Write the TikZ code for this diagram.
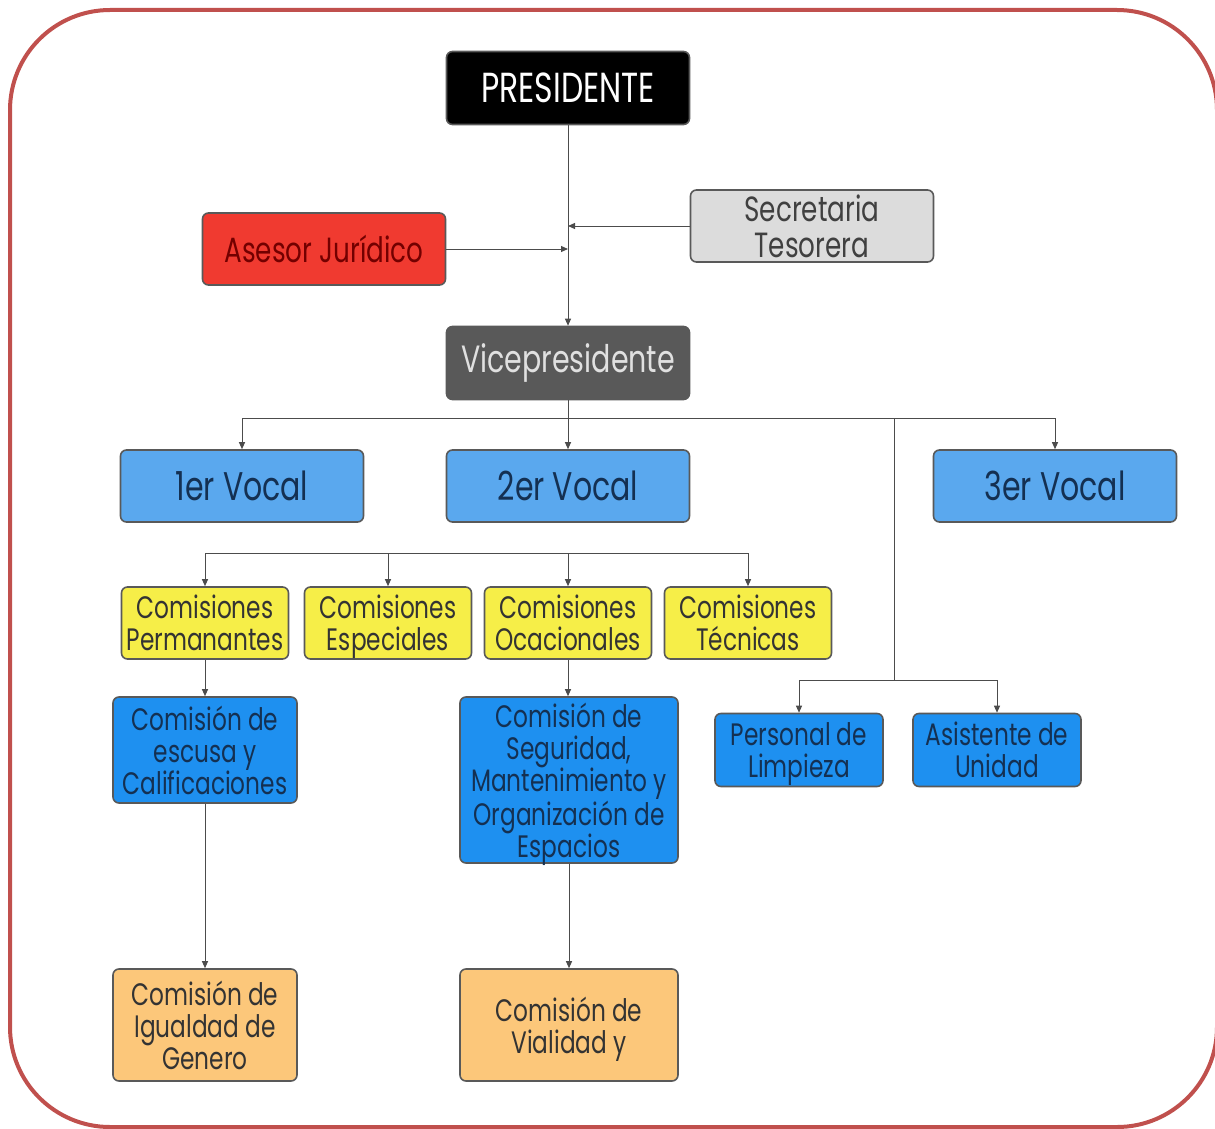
\documentclass[tikz,border=0pt]{standalone}
\usepackage{fontspec}
\setmainfont{Poppins}[FakeStretch=0.75]
\usepackage{tikz}
\usetikzlibrary{arrows.meta, positioning}

\definecolor{marcorojo}{RGB}{192,80,77}
\definecolor{grisclaro}{RGB}{220,220,220}
\definecolor{grisoscuro}{RGB}{89,89,89}
\definecolor{rojoasesor}{RGB}{240,58,48}
\definecolor{azulvocal}{RGB}{90,168,238}
\definecolor{azulcomision}{RGB}{30,144,240}
\definecolor{amarillo}{RGB}{246,238,72}
\definecolor{naranja}{RGB}{252,199,122}
\definecolor{azultexto}{RGB}{20,48,82}

\begin{document}
\begin{tikzpicture}[
  x=0.5pt, y=-0.5pt,
  caja/.style={draw=black!65, line width=0.8pt, rounded corners=3pt,
               align=center, inner sep=1pt},
  jefe/.style={caja, minimum width=121.5pt, minimum height=36.5pt,
               font=\fontsize{21}{24}\selectfont},
  lateral/.style={caja, minimum width=121.5pt, minimum height=36pt,
               font=\fontsize{17.5}{18}\selectfont},
  vocal/.style={caja, fill=azulvocal, text=azultexto, minimum width=121.5pt,
               minimum height=36pt, font=\fontsize{20}{22}\selectfont},
  grupo/.style={caja, fill=amarillo, text=black!80, minimum width=83.5pt,
               minimum height=36pt, text depth=0pt,
               font=\fontsize{15.5}{16}\selectfont},
  comision/.style={caja, fill=azulcomision, text=azultexto, text depth=0pt,
               font=\fontsize{15.5}{16}\selectfont},
  final/.style={caja, fill=naranja, text=black!80, minimum width=92pt,
               minimum height=56pt, text depth=0pt,
               font=\fontsize{15.5}{16}\selectfont},
  flecha/.style={draw=black!70, line width=0.5pt,
               -{Triangle[length=3.5pt,width=3pt]}},
  linea/.style={draw=black!70, line width=0.5pt},
  marco/.style={draw=marcorojo, line width=2pt, rounded corners=50pt}
]
\clip (0,0) rectangle (1215,1129);
\draw[marco] (10,10) rectangle (1217,1127);

% direccion
\node[jefe, fill=black, text=white] (pres) at (568,88) {PRESIDENTE};
\node[lateral, fill=grisclaro, text=black!75] (secr) at (812,226) {Secretaria\\Tesorera};
\node[lateral, fill=rojoasesor, text=red!45!black] (ases) at (324,249) {Asesor Jurídico};
\node[jefe, fill=grisoscuro, text=black!12, font=\fontsize{19}{22}\selectfont]
  (vice) at (568,363) {Vicepresidente};

% vocales
\node[vocal] (v1) at (242,486) {1er Vocal};
\node[vocal] (v2) at (568,486) {2er Vocal};
\node[vocal] (v3) at (1055,486) {3er Vocal};

% comisiones
\node[grupo] (perm) at (205,623) {Comisiones\\Permanantes};
\node[grupo] (espe) at (388,623) {Comisiones\\Especiales};
\node[grupo] (ocac) at (568,623) {Comisiones\\Ocacionales};
\node[grupo] (tecn) at (748,623) {Comisiones\\Técnicas};

\node[comision, minimum width=92pt, minimum height=53pt] (escu) at (205,750)
  {Comisión de\\escusa y\\Calificaciones};
\node[comision, minimum width=109pt, minimum height=83pt] (segu) at (569,780)
  {Comisión de\\Seguridad,\\Mantenimiento y\\Organización de\\Espacios};
\node[comision, minimum width=84pt, minimum height=36.5pt] (limp) at (799,750)
  {Personal de\\Limpieza};
\node[comision, minimum width=84pt, minimum height=36.5pt] (asis) at (997,750)
  {Asistente de\\Unidad};

\node[final] (igua) at (205,1025) {Comisión de\\Igualdad de\\Genero};
\node[final, minimum width=109pt] (vial) at (569,1025) {Comisión de\\Vialidad y};

% conectores
\draw[flecha] (pres) -- (vice);
\draw[flecha] (secr.west) -- (secr.west -| pres.south);
\draw[flecha] (ases.east) -- (ases.east -| pres.south);

\coordinate (busv) at (568,418);
\coordinate (rama) at (894,418);
\coordinate (rama2) at (894,680);
\draw[linea] (vice) -- (busv);
\draw[linea] (v1 |- busv) -- (v3 |- busv);
\foreach \v in {v1,v2,v3}
  \draw[flecha] (\v |- busv) -- (\v);
\draw[linea] (rama) -- (rama2);
\draw[linea] (limp |- rama2) -- (asis |- rama2);
\foreach \v in {limp,asis}
  \draw[flecha] (\v |- rama2) -- (\v);

\coordinate (busc) at (205,553);
\draw[linea] (perm |- busc) -- (tecn |- busc);
\foreach \c in {perm,espe,ocac,tecn}
  \draw[flecha] (\c |- busc) -- (\c);

\draw[flecha] (perm) -- (escu);
\draw[flecha] (ocac) -- (ocac |- segu.north);
\draw[flecha] (escu) -- (igua);
\draw[flecha] (segu) -- (vial);
\end{tikzpicture}
\end{document}
